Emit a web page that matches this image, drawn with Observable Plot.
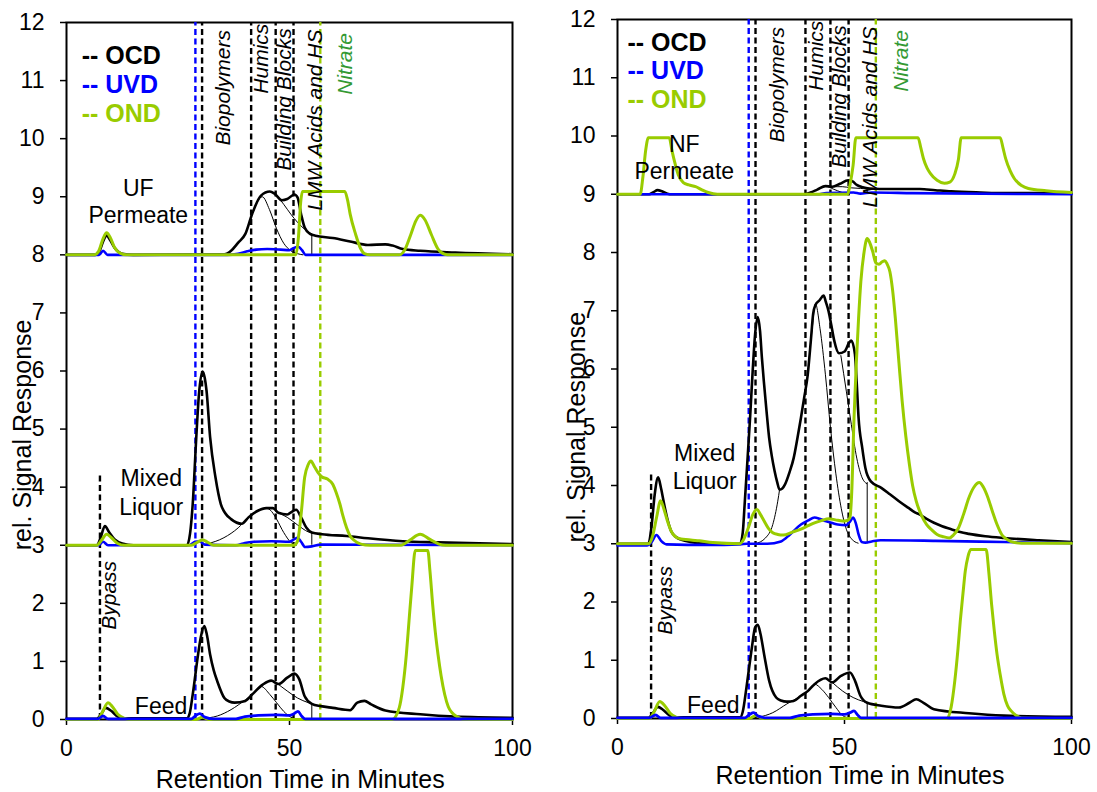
<!DOCTYPE html>
<html>
<head>
<meta charset="utf-8">
<script src="https://cdn.jsdelivr.net/npm/d3@7"></script>
<script src="https://cdn.jsdelivr.net/npm/@observablehq/plot@0.6"></script>
<style>
  body { margin: 0; background: #ffffff; }
  #chart { position: relative; width: 1097px; height: 792px; font-family: "Liberation Sans", Arial, sans-serif; }
  #chart svg { position: absolute; top: 0; }
</style>
</head>
<body>
<div id="chart"></div>
<script>
// ---- axis ticks -------------------------------------------------------
const retentionTicks = [0, 50, 100];
const signalTicks = d3.range(0, 13);

// ---- detectors ---------------------------------------------------------
const detectorNames = ["OCD", "UVD", "OND"];
const detectorColors = ["#000000", "#0000ff", "#99cc00"];

// ---- fraction cut-offs (retention time, min) ---------------------------
const fractionNames = ["Biopolymers", "Humics", "Building Blocks", "LMW Acids and HS"];
const nitrateName = "Nitrate";
const uvdCutoff = 28.9;
const ocdCutoffs = [30.4, 41.4, 46.9, 50.9];
const ondCutoff = 56.9;
const integrationEnd = 55.0;

// ---- UF system: permeate (offset 8) ------------------------------------
const ufPermOCD = [[0,8],[6.5,8],[7.5,8.08],[8.3,8.25],[9.0,8.33],[9.8,8.25],[10.8,8.12],[12.5,8.02],[15,8],[35.4,8.01],[36.9,8.07],[38.5,8.21],[40.1,8.36],[41.6,8.70],[43.6,9.02],[45.6,9.09],[46.7,9.05],[48.3,8.94],[49.5,8.96],[51.1,9.04],[51.8,8.99],[52.6,8.70],[53.4,8.47],[54.6,8.36],[55.8,8.33],[59.7,8.29],[63.6,8.23],[67.6,8.17],[71.5,8.18],[73.1,8.16],[75.4,8.10],[79.3,8.07],[87.2,8.04],[100,8.01]];
const ufPermUVD = [[0,8],[7.3,8],[8.2,8.07],[9.2,8],[36,8],[38.5,8.02],[40.5,8.06],[42.5,8.09],[45,8.10],[48,8.09],[50,8.08],[51,8.12],[52,8.14],[52.8,8.08],[53.6,8],[100,8]];
const ufPermOND = [[0,8],[6.2,8],[7.2,8.06],[8.2,8.28],[9.0,8.38],[9.8,8.30],[10.8,8.12],[12,8.03],[13.5,8],[51.4,8],[52.0,8.30],[52.5,8.90],[52.9,9.09],[62.4,9.09],[63.0,8.95],[63.6,8.70],[64.8,8.36],[66.0,8.10],[66.8,8.02],[68,8],[74.6,8],[75.8,8.08],[77.2,8.35],[78.3,8.58],[79.3,8.68],[80.4,8.60],[81.8,8.35],[83.3,8.10],[84.8,8.01],[86,8],[100,8]];
const ufPermFits = [
  [[41.6,8.70],[43.9,9.00],[45.5,8.78],[47.1,8.45],[48.7,8.20],[50.3,8.07],[51.8,8.02],[53,8]],
  [[47.1,9.03],[48.7,8.87],[50.3,8.70],[51.8,8.56],[53.4,8.44],[55.0,8.36]]
];

// ---- UF system: mixed liquor (offset 3) --------------------------------
const ufMixOCD = [[0,3],[6.8,3],[7.6,3.12],[8.6,3.33],[9.6,3.22],[10.8,3.10],[12.5,3.03],[15,3],[27,3],[27.7,3.20],[28.3,3.71],[29.1,4.86],[29.7,5.60],[30.5,5.99],[31.0,5.88],[31.4,5.66],[32.2,4.86],[33.4,4.17],[34.6,3.71],[35.6,3.55],[36.9,3.45],[39.3,3.37],[40.8,3.48],[42.8,3.59],[44.8,3.64],[46.3,3.64],[47.5,3.56],[49.5,3.53],[50.6,3.58],[51.5,3.61],[52.6,3.48],[53.8,3.30],[55.0,3.22],[57.3,3.19],[62.8,3.16],[67.6,3.12],[75.4,3.07],[83.3,3.05],[100,3.02]];
const ufMixUVD = [[0,3],[7.2,3],[8.2,3.06],[9.3,3],[27.5,3],[28.8,3.06],[29.8,3.07],[31,3.01],[38,3],[40,3.04],[42,3.06],[46,3.07],[50,3.06],[51,3.10],[51.8,3.13],[52.6,3.06],[53.5,2.97],[55,2.98],[57,3.01],[100,3]];
const ufMixOND = [[0,3],[6.8,3],[7.8,3.08],[9,3.19],[10.2,3.12],[11.5,3.03],[13,3],[28,3],[29.5,3.06],[30.5,3.09],[31.5,3.06],[33,3],[51,3],[51.8,3.07],[52.6,3.53],[53.4,4.17],[54.2,4.39],[54.8,4.45],[55.6,4.35],[56.4,4.25],[57.2,4.18],[58.5,4.14],[59.7,4.05],[60.5,3.90],[61.3,3.71],[62.0,3.50],[62.8,3.30],[63.6,3.16],[64.4,3.09],[66,3.02],[68,3],[75,3],[77,3.09],[79.3,3.19],[81.5,3.10],[83.5,3.02],[85,3],[100,3]];
const ufMixFits = [
  [[31.4,3.02],[35.3,3.13],[38.5,3.30],[40.8,3.48],[42.8,3.59],[44.8,3.64],[46,3.58],[47.1,3.45],[48.7,3.22],[50.3,3.05],[51.5,3]],
  [[46.9,3.58],[49.5,3.48],[51.8,3.35],[54.2,3.23],[55,3.21]]
];

// ---- UF system: feed (offset 0) ----------------------------------------
const ufFeedOCD = [[0,0.01],[6.8,0.01],[7.6,0.07],[8.8,0.20],[10,0.15],[11.5,0.05],[13,0.02],[27,0.02],[27.6,0.10],[28.3,0.43],[29.5,1.12],[30.2,1.45],[30.9,1.61],[31.5,1.45],[32.2,1.12],[33.0,0.85],[33.8,0.66],[35.4,0.37],[36.5,0.31],[37.7,0.29],[40.1,0.32],[41.6,0.43],[44,0.60],[45.9,0.67],[47.5,0.61],[49.5,0.72],[51.1,0.79],[52.2,0.69],[53.4,0.40],[55,0.27],[57,0.23],[59.7,0.20],[63.6,0.16],[65.2,0.29],[66.8,0.32],[68.3,0.26],[71.5,0.155],[79.3,0.09],[87.2,0.05],[100,0.03]];
const ufFeedUVD = [[0,0.01],[7,0.01],[8.2,0.06],[9.3,0.01],[28,0.01],[29,0.07],[29.9,0.10],[31,0.04],[33,0.01],[38,0.01],[40,0.05],[43,0.07],[47,0.08],[50,0.07],[51,0.10],[51.9,0.14],[52.7,0.06],[53.5,0.01],[100,0.01]];
const ufFeedOND = [[0,0],[7,0],[8,0.12],[9.3,0.29],[10.3,0.22],[11.5,0.09],[13,0.02],[14.5,0],[29,0],[30.5,0.04],[32,0],[73,0],[74.6,0.20],[75.4,0.55],[76.2,1.12],[76.8,1.70],[77.4,2.27],[78.2,2.91],[81.0,2.91],[81.5,2.55],[82.1,1.98],[82.7,1.50],[83.3,1.12],[84.0,0.75],[84.8,0.43],[85.6,0.22],[86.4,0.12],[87.5,0.05],[88.8,0.01],[100,0]];
const ufFeedFits = [
  [[30.6,0.02],[33.8,0.06],[36.9,0.17],[40.1,0.34],[41.6,0.43],[43.6,0.57],[45.6,0.43],[47.1,0.29],[48.7,0.14],[50.3,0.04],[51.5,0.01]],
  [[47.1,0.63],[49.5,0.49],[51.8,0.37],[54.2,0.29],[55,0.27]]
];

// ---- NF system: permeate (offset 9) ------------------------------------
const nfPermOCD = [[0,9],[7,9],[8,9.04],[8.8,9.07],[9.8,9.05],[11,9.01],[12,9],[41,9],[42.5,9.03],[44,9.08],[45.8,9.14],[47.3,9.13],[49,9.18],[50.8,9.24],[51.8,9.22],[52.7,9.16],[54,9.12],[55.5,9.10],[60,9.09],[66.6,9.09],[70,9.07],[73.5,9.05],[80,9.03],[85,9.02],[100,9.02]];
const nfPermUVD = [[0,9],[44,9],[46,9.02],[52,9.03],[53.5,9.01],[56,9.03],[65,9.02],[100,9]];
const nfPermOND = [[0,9],[5,9],[5.6,9.30],[6.2,9.75],[6.8,9.97],[11.4,9.97],[12.0,9.75],[12.6,9.55],[13.4,9.33],[14.5,9.20],[15.7,9.16],[17.2,9.13],[18.5,9.08],[20,9.03],[22,9],[50.7,9],[51.3,9.20],[51.9,9.50],[52.5,9.97],[66.2,9.97],[66.8,9.80],[67.4,9.61],[68.2,9.45],[68.9,9.36],[70.4,9.24],[72.0,9.19],[73.2,9.21],[74.3,9.35],[75.1,9.60],[75.7,9.97],[84.3,9.97],[84.9,9.80],[85.5,9.61],[86.5,9.40],[87.4,9.27],[89,9.15],[90.5,9.10],[94.4,9.06],[100,9.03]];
const nfPermFits = [
  [[44,9.08],[45.8,9.14],[47.5,9.09],[49.5,9.03],[51,9]],
  [[47.3,9.13],[49.5,9.13],[51.5,9.11],[53.5,9.10],[55,9.09]]
];

// ---- NF system: mixed liquor (offset 3) --------------------------------
const nfMixOCD = [[0,3],[6.8,3],[7.5,3.30],[8.2,3.85],[8.95,4.14],[9.6,3.95],[10.3,3.67],[11.0,3.42],[11.8,3.22],[12.8,3.12],[14.1,3.07],[16,3.03],[19.5,3],[27,3],[27.6,3.20],[28.0,3.67],[28.6,4.40],[29.2,5.16],[29.8,6.00],[30.3,6.59],[30.9,6.89],[31.4,6.65],[31.8,6.20],[32.3,5.73],[32.8,5.30],[33.4,4.82],[34.0,4.50],[34.6,4.25],[35.2,4.05],[35.7,3.93],[36.3,3.95],[36.9,4.02],[37.9,4.23],[38.8,4.47],[39.6,4.80],[40.4,5.16],[41.1,5.50],[41.9,5.90],[42.6,6.50],[43.1,6.95],[43.6,7.10],[44.5,7.18],[45.4,7.26],[45.9,7.15],[46.5,6.99],[47.1,6.75],[47.7,6.50],[48.8,6.27],[50.0,6.30],[51.0,6.45],[51.5,6.49],[52.3,6.25],[52.7,5.75],[53.1,5.16],[53.9,4.65],[54.6,4.30],[55.8,4.07],[58.1,3.96],[60,3.85],[62,3.73],[64,3.62],[65.5,3.54],[66.6,3.50],[68,3.43],[69.7,3.36],[71.5,3.30],[73.5,3.25],[75.5,3.20],[77.4,3.17],[81,3.13],[85.1,3.10],[92.8,3.06],[100,3.03]];
const nfMixUVD = [[0,2.97],[6.5,2.97],[7.5,3.03],[8.6,3.15],[9.6,3.05],[10.8,2.99],[20,2.98],[27,2.99],[28.5,3],[33,3],[36,3.04],[38,3.16],[40.4,3.33],[42,3.40],[43.4,3.45],[44.5,3.43],[45.8,3.39],[47.5,3.35],[48.5,3.33],[50.4,3.32],[51.2,3.38],[51.9,3.45],[52.5,3.35],[53.1,3.16],[53.8,3.03],[54.6,3.02],[56,3.04],[58,3.06],[70,3.05],[85,3.03],[100,3.01]];
const nfMixOND = [[0,3],[6.8,3],[7.8,3.15],[8.6,3.45],[9.5,3.74],[10.2,3.60],[11.0,3.39],[11.8,3.22],[12.6,3.13],[14,3.08],[15.7,3.07],[18,3.05],[21,3.02],[27,3],[27.6,3.05],[28.8,3.27],[29.8,3.50],[30.7,3.59],[31.5,3.50],[32.3,3.39],[33.2,3.27],[34.2,3.19],[35.3,3.16],[36.5,3.15],[38.5,3.20],[40.4,3.25],[42,3.31],[43.4,3.36],[45,3.40],[46.5,3.43],[48,3.41],[49.6,3.39],[50.6,3.40],[51.2,3.45],[51.6,3.90],[52.1,5.16],[52.6,6.10],[53.1,6.87],[53.6,7.50],[54.3,8.00],[55.0,8.24],[55.5,8.18],[56.2,8.02],[56.9,7.82],[57.6,7.80],[58.3,7.84],[58.9,7.86],[59.4,7.80],[60.0,7.67],[60.6,7.35],[61.2,6.87],[62.0,6.10],[62.7,5.45],[63.5,4.85],[64.3,4.36],[65.0,4.00],[65.8,3.73],[67,3.48],[68.1,3.33],[69.2,3.24],[70.4,3.16],[71.8,3.12],[73.1,3.10],[74.0,3.15],[75.1,3.27],[76.2,3.50],[77.4,3.79],[78.5,3.97],[79.7,4.05],[80.6,3.97],[81.6,3.79],[82.6,3.55],[83.6,3.33],[84.7,3.15],[85.9,3.07],[87.5,3.02],[89,3.01],[100,3.01]];
const nfMixFits = [
  [[30.3,3],[32.6,3.10],[34.2,3.33],[35.3,3.73],[35.7,3.93]],
  [[41.9,5.90],[42.9,6.70],[43.6,7.12],[44.6,6.70],[45.8,5.90],[46.9,5.00],[48.1,4.20],[49.3,3.60],[50.4,3.25],[51.6,3.08],[53,3.01]],
  [[49.2,6.23],[50.4,5.62],[51.5,5.05],[52.7,4.47],[53.9,4.13],[54.9,4.03]]
];

// ---- NF system: feed (offset 0) ----------------------------------------
const nfFeedOCD = [[0,0.01],[6.8,0.01],[7.6,0.07],[8.9,0.20],[10,0.15],[11.5,0.05],[13,0.02],[27,0.02],[27.6,0.12],[28.4,0.53],[29.6,1.22],[30.3,1.56],[30.9,1.61],[31.5,1.45],[32.3,1.10],[33.4,0.65],[34.95,0.36],[36,0.31],[37.3,0.29],[38.8,0.30],[40.4,0.39],[41.9,0.47],[43.4,0.59],[45.8,0.69],[47.3,0.62],[49.2,0.73],[51.2,0.79],[52.3,0.65],[53.5,0.39],[55,0.27],[58.1,0.22],[62,0.19],[64.3,0.27],[65.8,0.33],[67.4,0.27],[69.7,0.16],[77.4,0.09],[85.1,0.05],[100,0.03]];
const nfFeedUVD = [[0,0.01],[7,0.01],[8.4,0.06],[9.5,0.01],[28,0.01],[29.1,0.07],[30.0,0.10],[31,0.04],[33,0.01],[38,0.01],[40,0.05],[43,0.07],[47,0.08],[50,0.07],[51.2,0.10],[52.1,0.13],[52.9,0.06],[53.7,0.01],[100,0.01]];
const nfFeedOND = [[0,0],[7,0],[8.1,0.12],[9.3,0.29],[10.4,0.22],[11.6,0.09],[13,0.02],[14.5,0],[29,0],[30.5,0.05],[32,0],[72.5,0],[73.5,0.20],[74.3,0.65],[75.0,1.20],[75.5,1.67],[76.1,2.15],[76.6,2.53],[77.2,2.78],[77.8,2.90],[81.2,2.90],[81.8,2.50],[82.4,1.96],[83.0,1.50],[83.6,1.10],[84.3,0.75],[85.1,0.42],[85.9,0.22],[86.7,0.13],[87.8,0.05],[89,0.01],[100,0]];
const nfFeedFits = [
  [[31.1,0.02],[34.2,0.10],[37.3,0.25],[40.4,0.39],[41.9,0.47],[43.4,0.59],[45,0.50],[46.5,0.36],[48.1,0.19],[49.6,0.05],[51,0.01]],
  [[47.3,0.62],[49.6,0.47],[51.9,0.36],[54.2,0.29],[55,0.27]]
];

// ---- sample groupings ---------------------------------------------------
const ufSamples = [
  {base: 8, ocd: ufPermOCD, uvd: ufPermUVD, ond: ufPermOND, fits: ufPermFits, endTop: 8.36, uvdLast: false},
  {base: 3, ocd: ufMixOCD, uvd: ufMixUVD, ond: ufMixOND, fits: ufMixFits, endTop: 3.22, uvdLast: false},
  {base: 0, ocd: ufFeedOCD, uvd: ufFeedUVD, ond: ufFeedOND, fits: ufFeedFits, endTop: 0.27, uvdLast: true}
];
const nfSamples = [
  {base: 9, ocd: nfPermOCD, uvd: nfPermUVD, ond: nfPermOND, fits: nfPermFits, endTop: 9.09, uvdLast: false},
  {base: 3, ocd: nfMixOCD, uvd: nfMixUVD, ond: nfMixOND, fits: nfMixFits, endTop: 4.05, uvdLast: false},
  {base: 0, ocd: nfFeedOCD, uvd: nfFeedUVD, ond: nfFeedOND, fits: nfFeedFits, endTop: 0.27, uvdLast: true}
];

const font = '"Liberation Sans", Arial, sans-serif';
const dash = "6,3.5";

function trace(pts, color, width) {
  return Plot.line(pts, {x: d => d[0], y: d => d[1], curve: "monotone-x", stroke: color, strokeWidth: width, strokeLinejoin: "round"});
}

function chromatograms(p) {
  const marks = [
    Plot.frame({stroke: "black", strokeWidth: 2}),
    Plot.axisX({ticks: retentionTicks, tickSize: 6, tickPadding: 14, fontSize: 23, label: null, strokeWidth: 1.5}),
    Plot.axisY({ticks: signalTicks, tickSize: 6, tickPadding: 16, fontSize: 23, label: null, strokeWidth: 1.5}),
    // fraction cut-offs
    Plot.ruleX([uvdCutoff], {x: d => d, y1: 0, y2: 12, stroke: detectorColors[1], strokeWidth: 2.4, strokeDasharray: dash}),
    Plot.ruleX(ocdCutoffs, {x: d => d, y1: 0, y2: 12, stroke: "black", strokeWidth: 2.4, strokeDasharray: dash}),
    Plot.ruleX([ondCutoff], {x: d => d, y1: 0, y2: 12, stroke: detectorColors[2], strokeWidth: 2.4, strokeDasharray: dash}),
    Plot.ruleX([p.bypass], {x: "x", y1: 0, y2: "top", stroke: "black", strokeWidth: 2.4, strokeDasharray: dash}),
    // end of the integration window
    Plot.ruleX(p.samples, {x: integrationEnd, y1: "base", y2: "endTop", stroke: "black", strokeWidth: 1})
  ];
  for (const s of p.samples) {
    for (const f of s.fits) marks.push(trace(f, "black", 1));
    marks.push(trace(s.ocd, detectorColors[0], 2.6));
    if (s.uvdLast) {
      marks.push(trace(s.ond, detectorColors[2], 3));
      marks.push(trace(s.uvd, detectorColors[1], 2.8));
    } else {
      marks.push(trace(s.uvd, detectorColors[1], 2.6));
      marks.push(trace(s.ond, detectorColors[2], 3));
    }
  }
  // legend
  marks.push(Plot.text(detectorNames.map((n, i) => ({t: "-- " + n, c: detectorColors[i], y: p.legendY[i]})),
    {x: p.legendX, y: "y", text: "t", fill: "c", textAnchor: "start", fontSize: 25, fontWeight: "bold"}));
  // fraction names
  marks.push(Plot.text(fractionNames.map((t, i) => ({t, x: [35.1, 43.7, 48.8, 55.7][i], y: [11.87, 11.98, 11.9, 11.88][i]})),
    {x: "x", y: "y", text: "t", rotate: -90, textAnchor: "end", fontSize: 21, fontStyle: "italic", fill: "black"}));
  marks.push(Plot.text([nitrateName], {x: 62.5, y: 11.82, text: d => d, rotate: -90, textAnchor: "end", fontSize: 21, fontStyle: "italic", fill: "#339933"}));
  marks.push(Plot.text(["Bypass"], {x: p.bypassLabel.x, y: p.bypassLabel.y, text: d => d, rotate: -90, textAnchor: "end", fontSize: 21, fontStyle: "italic", fill: "black"}));
  // sample names
  marks.push(Plot.text(p.sampleLabels, {x: "x", y: "y", text: "t", fontSize: 23, fill: "black"}));
  // axis titles
  marks.push(Plot.text(["rel. Signal Response"], {x: p.yTitle.x, y: p.yTitle.y, text: d => d, rotate: -90, fontSize: 25, fill: "black"}));
  marks.push(Plot.text(["Retention Time in Minutes"], {x: p.xTitle.x, y: p.xTitle.y, text: d => d, fontSize: 25, fill: "black"}));

  const svg = Plot.plot({
    width: p.width, height: 792,
    marginLeft: p.ml, marginRight: p.mr, marginTop: p.mt, marginBottom: p.mb,
    x: {domain: [0, 100]},
    y: {domain: [0, 12]},
    style: {fontFamily: font, background: "transparent", color: "black", overflow: "visible"},
    marks
  });
  svg.style.left = p.left + "px";
  return svg;
}

const chart = document.getElementById("chart");
chart.append(chromatograms({
  width: 550, left: 0, ml: 66, mr: 38, mt: 22, mb: 73,
  samples: ufSamples,
  bypass: {x: 7.5, top: 4.2}, bypassLabel: {x: 9.7, y: 2.73},
  legendX: 3.4, legendY: [11.42, 10.92, 10.42],
  sampleLabels: [{t: "UF", x: 16.1, y: 9.14}, {t: "Permeate", x: 16.1, y: 8.68}, {t: "Mixed", x: 19.0, y: 4.14}, {t: "Liquor", x: 19.0, y: 3.65}, {t: "Feed", x: 21.2, y: 0.22}],
  yTitle: {x: -9.8, y: 4.9}, xTitle: {x: 52.4, y: -1.05}
}));
chart.append(chromatograms({
  width: 547, left: 550, ml: 67, mr: 26, mt: 19, mb: 74,
  samples: nfSamples,
  bypass: {x: 7.4, top: 4.22}, bypassLabel: {x: 10.6, y: 2.62},
  legendX: 2.2, legendY: [11.60, 11.11, 10.61],
  sampleLabels: [{t: "NF", x: 14.7, y: 9.85}, {t: "Permeate", x: 14.7, y: 9.39}, {t: "Mixed", x: 19.2, y: 4.55}, {t: "Liquor", x: 19.2, y: 4.07}, {t: "Feed", x: 21.1, y: 0.22}],
  yTitle: {x: -8.9, y: 5.0}, xTitle: {x: 53.4, y: -0.99}
}));
</script>
</body>
</html>
